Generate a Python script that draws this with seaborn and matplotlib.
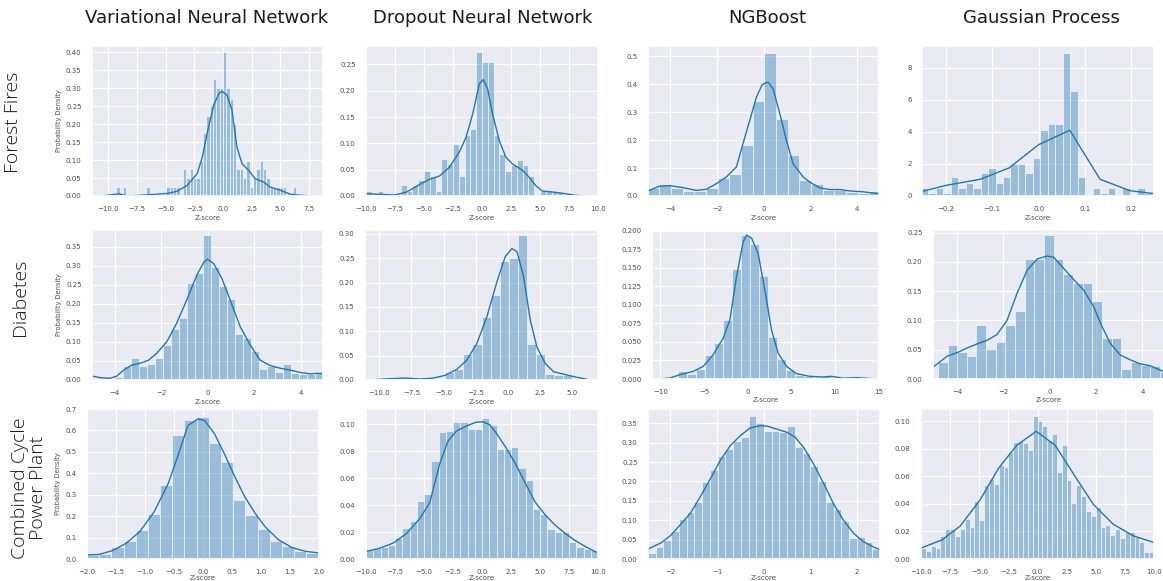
import numpy as np
import pandas as pd
import matplotlib
matplotlib.use("Agg")
import matplotlib.pyplot as plt
import seaborn as sns
from matplotlib.ticker import MultipleLocator

# ---------------- labels ----------------
model_names = ["Variational Neural Network", "Dropout Neural Network", "NGBoost", "Gaussian Process"]
dataset_names = ["Forest Fires", "Diabetes", "Combined Cycle\nPower Plant"]

# ---------------- data (histogram densities + KDE curves) ----------------
# Forest Fires / VNN
ff_vnn_bin_start, ff_vnn_bin_width = -9.28, 0.29
ff_vnn_heights = [0.024, 0, 0.024, 0, 0, 0, 0, 0, 0, 0.024, 0, 0, 0, 0, 0, 0.024, 0.024, 0.024, 0.024, 0,
                  0.074, 0.049, 0.074, 0.049, 0.049, 0.098, 0.175, 0.223, 0.25, 0.324, 0.30, 0.30, 0.40,
                  0.30, 0.27, 0.20, 0.074, 0.074, 0.05, 0.098, 0.024, 0.05, 0.074, 0.098, 0.074, 0.05,
                  0.024, 0.024, 0.024, 0.024, 0.024, 0, 0, 0.024]
ff_vnn_kde_x = [-10.8, -10.5, -9.05, -8.3, -6.6, -4.85, -4.0, -3.1, -2.25, -1.8, -1.39, -0.81, -0.38, -0.09,
                0.35, 0.78, 1.21, 1.65, 2.23, 2.8, 3.53, 4.1, 4.97, 5.84, 6.7, 7.86]
ff_vnn_kde_y = [0.0, 0.0, 0.006, 0.0, 0.003, 0.007, 0.013, 0.03, 0.062, 0.108, 0.173, 0.252, 0.284, 0.291,
                0.28, 0.238, 0.136, 0.09, 0.071, 0.048, 0.039, 0.025, 0.016, 0.005, 0.002, 0.0]

# Forest Fires / Dropout NN
ff_dnn_bin_start, ff_dnn_bin_width = -10.0, 0.5
ff_dnn_heights = [0.01, 0, 0.01, 0, 0, 0, 0.02, 0.01, 0.02, 0.03, 0.048, 0.038, 0.01, 0.07, 0.06, 0.098,
                  0.038, 0.116, 0.128, 0.273, 0.255, 0.255, 0.115, 0.079, 0.048, 0.058, 0.069, 0.058,
                  0.038, 0, 0.01, 0.009, 0.009, 0.008]
ff_dnn_kde_x = [-9.97, -8.77, -7.5, -6.5, -5.36, -4.5, -3.65, -2.8, -1.94, -1.37, -0.8, -0.23, 0.11, 0.48,
                0.91, 1.48, 2.05, 2.62, 3.48, 4.05, 4.62, 5.19, 6.32, 7.18, 8.03, 8.9]
ff_dnn_kde_y = [0.0044, 0.003, 0.002, 0.0076, 0.022, 0.032, 0.038, 0.055, 0.084, 0.112, 0.156, 0.213, 0.221,
                0.204, 0.156, 0.106, 0.074, 0.061, 0.049, 0.036, 0.02, 0.0095, 0.007, 0.0044, 0.0013, 0.0]

# Forest Fires / NGBoost
ff_ngb_bin_start, ff_ngb_bin_width = -4.97, 0.5
ff_ngb_heights = [0.030, 0.044, 0.030, 0.018, 0.018, 0.030, 0.065, 0.080, 0.183, 0.338, 0.512, 0.276,
                  0.148, 0.056, 0.044, 0.020, 0.020, 0.014, 0.011, 0.018]
ff_ngb_kde_x = [-4.96, -4.46, -4.03, -3.46, -2.89, -2.46, -2.03, -1.6, -1.17, -0.89, -0.6, -0.31, -0.06,
                0.19, 0.4, 0.69, 0.97, 1.26, 1.69, 1.97, 2.4, 2.83, 3.26, 3.69, 4.26, 4.94]
ff_ngb_kde_y = [0.018, 0.035, 0.037, 0.03, 0.02, 0.024, 0.044, 0.068, 0.104, 0.187, 0.27, 0.354, 0.399,
                0.407, 0.383, 0.294, 0.199, 0.115, 0.068, 0.05, 0.029, 0.023, 0.023, 0.018, 0.015, 0.008]

# Forest Fires / Gaussian Process
ff_gp_bin_start, ff_gp_bin_width = -0.254, 0.0161
ff_gp_heights = [0.52, 0.21, 0.48, 0.21, 1.16, 0.52, 0.83, 0.52, 1.45, 1.73, 0.83, 1.16, 2.02, 2.02, 1.45,
                 2.35, 4.14, 4.47, 4.47, 8.94, 6.53, 1.16, 0, 0.52, 0.21, 0.52, 0, 0.52, 0, 0.52, 0.21]
ff_gp_kde_x = [-0.251, -0.2, -0.125, -0.064, 0.0, 0.067, 0.1325, 0.197, 0.249]
ff_gp_kde_y = [0.29, 0.66, 1.05, 1.75, 3.2, 4.1, 1.04, 0.33, 0.15]

# Diabetes / VNN
db_vnn_bin_start, db_vnn_bin_width = -3.97, 0.343
db_vnn_heights = [0.007, 0.037, 0.058, 0.037, 0.042, 0.058, 0.091, 0.133, 0.162, 0.254, 0.28, 0.38, 0.298,
                  0.247, 0.213, 0.12, 0.111, 0.076, 0.028, 0.037, 0.021, 0.042, 0.0175, 0.016, 0.016, 0.019]
db_vnn_kde_x = [-4.97, -4.6, -4.19, -3.9, -3.61, -3.26, -2.9, -2.54, -2.19, -1.76, -1.33, -0.9, -0.46,
                -0.17, 0.0, 0.26, 0.61, 0.97, 1.4, 1.83, 2.26, 2.69, 3.11, 3.54, 3.97, 4.4, 4.69, 4.96]
db_vnn_kde_y = [0.0105, 0.006, 0.0044, 0.0105, 0.026, 0.039, 0.044, 0.052, 0.07, 0.1, 0.149, 0.21, 0.276,
                0.309, 0.317, 0.306, 0.267, 0.21, 0.14, 0.092, 0.052, 0.038, 0.031, 0.026, 0.02, 0.016,
                0.0175, 0.0175]

# Diabetes / Dropout NN
db_dnn_bin_start, db_dnn_bin_width = -10.45, 0.7
db_dnn_heights = [0.002, 0.002, 0.003, 0.004, 0.004, 0.002, 0.002, 0.003, 0.017, 0.022, 0.053, 0.073, 0.13,
                  0.174, 0.244, 0.25, 0.298, 0.073, 0.053, 0.013, 0.011, 0.011, 0.002, 0.002]
db_dnn_kde_x = [-10.2, -8.9, -7.9, -6.8, -5.78, -4.87, -3.96, -3.19, -2.41, -1.63, -0.85, -0.21, 0.31, 0.7,
                1.22, 1.74, 2.25, 2.9, 3.55, 4.33, 5.1, 6.14]
db_dnn_kde_y = [0.001, 0.003, 0.004, 0.002, 0.004, 0.0096, 0.022, 0.041, 0.075, 0.13, 0.202, 0.253, 0.27,
                0.264, 0.212, 0.123, 0.068, 0.034, 0.017, 0.012, 0.007, 0.0014]

# Diabetes / NGBoost
db_ngb_bin_start, db_ngb_bin_width = -7.94, 1.03
db_ngb_heights = [0.0103, 0.0067, 0.0135, 0.0327, 0.049, 0.08, 0.148, 0.194, 0.182, 0.139, 0.057, 0.027,
                  0.0117, 0.0058, 0.0036, 0.0018, 0.0045, 0.0018, 0.0005, 0.001, 0.0013]
db_ngb_kde_x = [-10.0, -8.9, -7.75, -6.22, -5.08, -3.93, -2.79, -2.02, -1.26, -0.5, -0.11, 0.46, 1.22, 1.98,
                2.75, 3.51, 4.47, 5.61, 7.14, 8.66, 9.62, 10.95, 12.48, 13.6, 14.7]
db_ngb_kde_y = [0.0, 0.0013, 0.0058, 0.0103, 0.017, 0.033, 0.055, 0.08, 0.138, 0.185, 0.194, 0.19, 0.169,
                0.12, 0.066, 0.035, 0.017, 0.0072, 0.0036, 0.0027, 0.0036, 0.001, 0.0018, 0.001, 0.0]

# Diabetes / Gaussian Process
db_gp_bin_start, db_gp_bin_width = -4.82, 0.416
db_gp_heights = [0.029, 0.0585, 0.046, 0.04, 0.092, 0.052, 0.063, 0.092, 0.116, 0.205, 0.205, 0.246, 0.205,
                 0.18, 0.164, 0.164, 0.133, 0.07, 0.07, 0.017, 0.029, 0.0245, 0.0227, 0.0114]
db_gp_kde_x = [-5.02, -4.42, -3.99, -3.56, -3.13, -2.7, -2.27, -1.84, -1.4, -0.97, -0.54, -0.11, 0.17, 0.6,
               1.03, 1.46, 1.89, 2.25, 2.61, 3.04, 3.46, 3.89, 4.33, 4.89]
db_gp_kde_y = [0.0205, 0.039, 0.045, 0.053, 0.06, 0.066, 0.076, 0.1, 0.147, 0.186, 0.205, 0.21, 0.208, 0.189,
               0.17, 0.152, 0.124, 0.09, 0.061, 0.041, 0.033, 0.026, 0.0227, 0.013]

# Combined Cycle Power Plant / VNN
cc_vnn_bin_start, cc_vnn_bin_width = -2.0, 0.21
cc_vnn_heights = [0.02, 0.025, 0.054, 0.082, 0.136, 0.21, 0.345, 0.577, 0.65, 0.665, 0.543, 0.451, 0.275,
                  0.206, 0.139, 0.082, 0.059, 0.036, 0.028]
cc_vnn_kde_x = [-2.0, -1.78, -1.55, -1.32, -1.09, -0.84, -0.6, -0.43, -0.26, -0.086, 0.03, 0.2, 0.37, 0.55,
                0.72, 0.9, 1.07, 1.3, 1.53, 1.76, 2.0]
cc_vnn_kde_y = [0.0185, 0.0216, 0.04, 0.074, 0.128, 0.221, 0.352, 0.484, 0.623, 0.654, 0.646, 0.584, 0.49,
                0.383, 0.29, 0.213, 0.151, 0.09, 0.054, 0.036, 0.028]

# Combined Cycle Power Plant / Dropout NN
cc_dnn_bin_start, cc_dnn_bin_width = -10.0, 0.625
cc_dnn_heights = [0.0078, 0.0081, 0.0088, 0.0105, 0.0154, 0.0233, 0.0282, 0.0429, 0.048, 0.073, 0.0946,
                  0.095, 0.102, 0.102, 0.097, 0.097, 0.105, 0.0995, 0.0816, 0.082, 0.083, 0.0676, 0.0588,
                  0.0375, 0.0338, 0.022, 0.0203, 0.0203, 0.0123, 0.0088, 0.0078, 0.0064]
cc_dnn_kde_x = [-10.0, -8.8, -7.66, -6.5, -5.37, -4.5, -3.65, -2.93, -2.22, -1.37, -0.51, 0.06, 0.63, 1.2,
                2.05, 2.9, 3.76, 4.6, 5.47, 6.32, 7.18, 8.03, 8.9, 9.84]
cc_dnn_kde_y = [0.0056, 0.0081, 0.0118, 0.019, 0.030, 0.042, 0.0706, 0.0877, 0.095, 0.0988, 0.1017, 0.102,
                0.1, 0.094, 0.083, 0.0706, 0.0559, 0.042, 0.0326, 0.025, 0.019, 0.0137, 0.0093, 0.0051]

# Combined Cycle Power Plant / NGBoost
cc_ngb_bin_start, cc_ngb_bin_width = -2.48, 0.166
cc_ngb_heights = [0.0145, 0.031, 0.048, 0.073, 0.104, 0.12, 0.147, 0.198, 0.23, 0.265, 0.284, 0.305, 0.316,
                  0.368, 0.352, 0.331, 0.329, 0.328, 0.344, 0.288, 0.273, 0.241, 0.2, 0.148, 0.129, 0.099,
                  0.054, 0.058, 0.045, 0.0256]
cc_ngb_kde_x = [-2.48, -2.21, -2.0, -1.79, -1.57, -1.36, -1.14, -0.93, -0.71, -0.5, -0.29, -0.07, 0.07, 0.29,
                0.5, 0.68, 0.86, 1.07, 1.29, 1.5, 1.71, 1.93, 2.14, 2.36, 2.5]
cc_ngb_kde_y = [0.0256, 0.041, 0.06, 0.088, 0.118, 0.16, 0.207, 0.254, 0.293, 0.318, 0.338, 0.344, 0.343,
                0.335, 0.327, 0.314, 0.288, 0.246, 0.195, 0.143, 0.101, 0.0666, 0.045, 0.031, 0.024]

# Combined Cycle Power Plant / Gaussian Process
cc_gp_bin_start, cc_gp_bin_width = -10.0, 0.4167
cc_gp_heights = [0.0079, 0.006, 0.0091, 0.0079, 0.0168, 0.022, 0.022, 0.0168, 0.0216, 0.0288, 0.0235, 0.042,
                 0.028, 0.054, 0.058, 0.0547, 0.0683, 0.0667, 0.078, 0.085, 0.0856, 0.084, 0.079, 0.1036,
                 0.1, 0.097, 0.0868, 0.0906, 0.0635, 0.0827, 0.0575, 0.0408, 0.054, 0.046, 0.035, 0.031,
                 0.038, 0.0235, 0.0245, 0.0173, 0.0216, 0.0156, 0.0197, 0.0197, 0.0163, 0.012, 0.0053, 0.005]
cc_gp_kde_x = [-10.0, -8.2, -6.63, -4.91, -3.34, -1.77, -0.11, 1.51, 3.23, 4.8, 6.51, 8.23, 10.0]
cc_gp_kde_y = [0.0079, 0.0139, 0.024, 0.0432, 0.066, 0.0827, 0.0928, 0.0827, 0.06, 0.0396, 0.0252, 0.0168,
               0.012]

# ---------------- style ----------------
sns.set_theme(style="darkgrid")
plt.rcParams['font.family'] = ['DejaVu Sans']
plt.rcParams['grid.linewidth'] = 0.8

W, H = 1163, 581
fig = plt.figure(figsize=(W / 100, H / 100), dpi=100)
BLUE = "#1f77b4"

panels = [
    # (row, col, start, width, heights, kde_x, kde_y, xlim, ylim, xstep, ystep, (left, top, right, bottom) px)
    (0, 0, ff_vnn_bin_start, ff_vnn_bin_width, ff_vnn_heights, ff_vnn_kde_x, ff_vnn_kde_y, (-11.4, 8.7), (0, 0.4167), 2.5, 0.05, (92, 46, 323, 196)),
    (0, 1, ff_dnn_bin_start, ff_dnn_bin_width, ff_dnn_heights, ff_dnn_kde_x, ff_dnn_kde_y, (-10.0, 10.0), (0, 0.285), 2.5, 0.05, (366, 46, 598, 196)),
    (0, 2, ff_ngb_bin_start, ff_ngb_bin_width, ff_ngb_heights, ff_ngb_kde_x, ff_ngb_kde_y, (-4.96, 4.94), (0, 0.536), 2, 0.1, (648, 46, 879, 196)),
    (0, 3, ff_gp_bin_start, ff_gp_bin_width, ff_gp_heights, ff_gp_kde_x, ff_gp_kde_y, (-0.2516, 0.2487), (0, 9.35), 0.1, 2, (922, 46, 1154, 196)),
    (1, 0, db_vnn_bin_start, db_vnn_bin_width, db_vnn_heights, db_vnn_kde_x, db_vnn_kde_y, (-4.97, 4.96), (0, 0.394), 2, 0.05, (92, 230, 323, 380)),
    (1, 1, db_dnn_bin_start, db_dnn_bin_width, db_dnn_heights, db_dnn_kde_x, db_dnn_kde_y, (-11.1, 7.0), (0, 0.308), 2.5, 0.05, (365, 230, 598, 380)),
    (1, 2, db_ngb_bin_start, db_ngb_bin_width, db_ngb_heights, db_ngb_kde_x, db_ngb_kde_y, (-10.95, 15.07), (0, 0.2009), 5, 0.025, (652, 230, 879, 379)),
    (1, 3, db_gp_bin_start, db_gp_bin_width, db_gp_heights, db_gp_kde_x, db_gp_kde_y, (-5.03, 4.97), (0, 0.2545), 2, 0.05, (933, 230, 1165, 379)),
    (2, 0, cc_vnn_bin_start, cc_vnn_bin_width, cc_vnn_heights, cc_vnn_kde_x, cc_vnn_kde_y, (-2.0, 2.0), (0, 0.70), 0.5, 0.1, (87, 409, 319, 559)),
    (2, 1, cc_dnn_bin_start, cc_dnn_bin_width, cc_dnn_heights, cc_dnn_kde_x, cc_dnn_kde_y, (-10.0, 10.0), (0, 0.1115), 2.5, 0.02, (366, 409, 598, 559)),
    (2, 2, cc_ngb_bin_start, cc_ngb_bin_width, cc_ngb_heights, cc_ngb_kde_x, cc_ngb_kde_y, (-2.48, 2.5), (0, 0.387), 1, 0.05, (648, 409, 880, 559)),
    (2, 3, cc_gp_bin_start, cc_gp_bin_width, cc_gp_heights, cc_gp_kde_x, cc_gp_kde_y, (-10.0, 10.0), (0, 0.109), 2.5, 0.02, (921, 409, 1154, 559)),
]

for (r, c, start, width, heights, kx, ky, xlim, ylim, xstep, ystep, (l, t, rr, b)) in panels:
    ax = fig.add_axes([l / W, 1 - b / H, (rr - l) / W, (b - t) / H])
    n = len(heights)
    edges = [start + width * i for i in range(n + 1)]
    centers = [start + width * (i + 0.5) for i in range(n)]
    hist_df = pd.DataFrame({"z": centers, "density": [float(h) for h in heights]})
    sns.histplot(data=hist_df, x="z", weights="density", bins=edges, stat="count", ax=ax,
                 color=BLUE, alpha=0.4, edgecolor="white", linewidth=0.4)
    kde_df = pd.DataFrame({"z": kx, "density": ky})
    sns.lineplot(data=kde_df, x="z", y="density", ax=ax, color=BLUE, linewidth=1.0)
    ax.set_xlim(*xlim)
    ax.set_ylim(*ylim)
    ax.xaxis.set_major_locator(MultipleLocator(xstep))
    ax.yaxis.set_major_locator(MultipleLocator(ystep))
    ax.tick_params(labelsize=5, pad=1.5, colors="0.3")
    if r == 2:
        ax.tick_params(axis="x", pad=1.0)
    ax.set_xlabel("Z-score", fontsize=5, labelpad=1.5 if r < 2 else 0.3, color="0.3")
    if c == 0:
        ax.set_ylabel("Probability Density", fontsize=4.8, labelpad=3, color="0.3")
    else:
        ax.set_ylabel("")

# column titles
title_centers = [207, 483, 767, 1041]
for name, cx in zip(model_names, title_centers):
    fig.text(cx / W, 1 - 18 / H, name, ha="center", va="center", fontsize=13, color="0.1")

# row labels
row_centers = [(13, 122), (20, 297), (29, 488)]
for name, (cx, cy) in zip(dataset_names, row_centers):
    fig.text(cx / W, 1 - cy / H, name, ha="center", va="center", rotation=90,
             fontsize=14, family=["Open Sans", "DejaVu Sans"], fontweight="light",
             linespacing=1.0, multialignment="center", color="0.1")

fig.savefig("out.png", dpi=100)
